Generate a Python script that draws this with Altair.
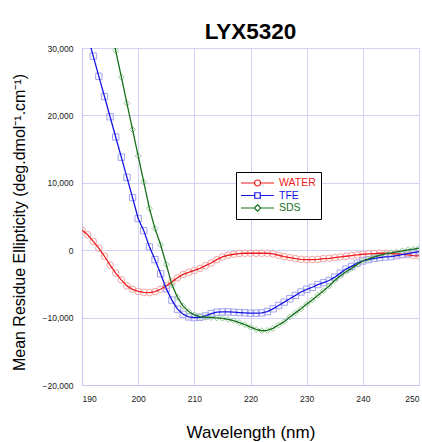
import altair as alt
import pandas as pd

wavelength = list(range(190, 251))

water = [3000, 2300, 1300, 300, -900, -2200, -3400, -4400, -5300, -5800,
         -6100, -6250, -6300, -6150, -5800, -5300, -4700, -4100, -3600, -3300,
         -3000, -2700, -2300, -1900, -1400, -1000, -750, -600, -500, -450,
         -450, -450, -450, -450, -550, -750, -950, -1100, -1250, -1350,
         -1400, -1400, -1350, -1250, -1200, -1100, -1000, -900, -800, -700,
         -600, -550, -500, -450, -450, -500, -550, -600, -700, -800,
         -850]

tfe = [34800, 31800, 28800, 25800, 22800, 19800, 16800, 13800, 10800, 7800,
       4700, 2900, 500, -1400, -3500, -5700, -7400, -8750, -9500, -9900,
       -10000, -9950, -9750, -9400, -9200, -9150, -9150, -9200, -9250, -9300,
       -9350, -9350, -9300, -9100, -8700, -8200, -7700, -7200, -6700, -6200,
       -5800, -5500, -5100, -4800, -4500, -4000, -3400, -2800, -2400, -1900,
       -1600, -1400, -1200, -1100, -1000, -950, -800, -650, -500, -350,
       -200]

sds = [53000, 49100, 45200, 41300, 37400, 33500, 29600, 25700, 21800, 17900,
       14000, 10100, 6200, 3200, 800, -2100, -5100, -7000, -8300, -9100,
       -9600, -9850, -9950, -10000, -10050, -10100, -10250, -10450, -10750, -11050,
       -11400, -11750, -11950, -11900, -11600, -11100, -10600, -9900, -9300, -8700,
       -8000, -7400, -6700, -6000, -5300, -4500, -3800, -3200, -2700, -2100,
       -1600, -1300, -1000, -750, -550, -400, -250, -100, 50, 150,
       300]

series_order = ["WATER", "TFE", "SDS"]
line_colors = ["#ee1c1c", "#1414e6", "#16701a"]
marker_colors = ["#f3a3a3", "#a3a3ef", "#9ccc9c"]
marker_shapes = ["circle", "square", "diamond"]
marker_sizes = [44, 40, 36]
legend_paths = [
    "M-1.2,0H1.5M2.7,0H5.4M2.7,0A0.6,0.6 0 1 1 1.5,0A0.6,0.6 0 1 1 2.7,0",
    "M-1.2,0H1.55M2.65,0H5.4M1.55,-0.55H2.65V0.55H1.55Z",
    "M-1.2,0H1.45M2.75,0H5.4M2.1,-0.65L2.75,0L2.1,0.65L1.45,0Z",
]
x_ticks = [190, 200, 210, 220, 230, 240, 250]
y_ticks = [-20000, -10000, 0, 10000, 20000, 30000]

df = pd.DataFrame({
    "wavelength": wavelength * 3,
    "value": water + tfe + sds,
    "series": ["WATER"] * len(water) + ["TFE"] * len(tfe) + ["SDS"] * len(sds),
})

FONT = "Liberation Sans"
GRID = "#d2d2f6"

x_enc = alt.X(
    "wavelength:Q",
    scale=alt.Scale(domain=[190, 250], nice=False, zero=False),
    axis=alt.Axis(
        values=x_ticks, title="Wavelength (nm)", format=".0f",
        labelFontSize=8.5, labelFont=FONT, labelColor="#222222", labelPadding=9,
        ticks=False, domainColor="#c4c4f0", gridColor=GRID,
        titleFontSize=17, titleFont=FONT, titleFontWeight="normal",
        titleColor="#000000", titlePadding=22,
    ),
)
y_enc = alt.Y(
    "value:Q",
    scale=alt.Scale(domain=[-20000, 30000], nice=False, zero=False),
    axis=alt.Axis(
        values=y_ticks, title="Mean Residue Ellipticity (deg.dmol\u207b\u00b9.cm\u207b\u00b9)",
        format=",.0f", labelFontSize=8.5, labelFont=FONT, labelColor="#222222",
        labelPadding=9, ticks=False, domainColor="#c4c4f0", gridColor=GRID,
        titleFontSize=16, titleFont=FONT, titleFontWeight="normal",
        titleColor="#000000", titlePadding=15, titleY=174,
    ),
)

base = alt.Chart(df)

point_layers = []
line_layers = []
for name, col, lcol, shp, sz in zip(series_order, marker_colors, line_colors, marker_shapes, marker_sizes):
    sub = base.transform_filter(alt.datum.series == name)
    point_layers.append(
        sub.mark_point(filled=False, shape=shp, size=sz, color=col, strokeWidth=1,
                       opacity=1, clip=True).encode(x=x_enc, y=y_enc)
    )
    line_layers.append(
        sub.mark_line(strokeWidth=1.3, color=lcol, clip=True).encode(x=x_enc, y=y_enc)
    )

label_expr = ("datum.label == 'WATER' ? '%s' : datum.label == 'TFE' ? '%s' : '%s'"
              % tuple(line_colors))
leg = alt.Legend(
    title=None, orient="none", legendX=154, legendY=124,
    fillColor="white", strokeColor="black", padding=5, cornerRadius=0,
    symbolSize=100, symbolStrokeWidth=1.2, symbolOpacity=1,
    labelFont=FONT, labelFontSize=10.5, labelColor={"expr": label_expr},
    labelOffset=26, rowPadding=0.5,
)
legend_layer = base.transform_filter(alt.datum.wavelength == 250).mark_point(
    filled=False, opacity=0
).encode(
    x=x_enc, y=y_enc,
    color=alt.Color("series:N", scale=alt.Scale(domain=series_order, range=line_colors),
                    sort=series_order, legend=leg),
    shape=alt.Shape("series:N", scale=alt.Scale(domain=series_order, range=legend_paths),
                    sort=series_order, legend=leg),
)

chart = alt.layer(*point_layers, *line_layers, legend_layer).properties(
    width=337, height=337,
    title=alt.TitleParams("LYX5320", fontSize=22.5, fontWeight="bold", font=FONT,
                          anchor="middle", color="#000000", offset=1),
    autosize=alt.AutoSizeParams(type="none"),
    padding={"left": 82, "top": 48, "right": 3, "bottom": 57},
).configure_view(stroke=None).configure(background="white")

chart.save("out.html", embed_options={"renderer": "svg", "actions": False})
